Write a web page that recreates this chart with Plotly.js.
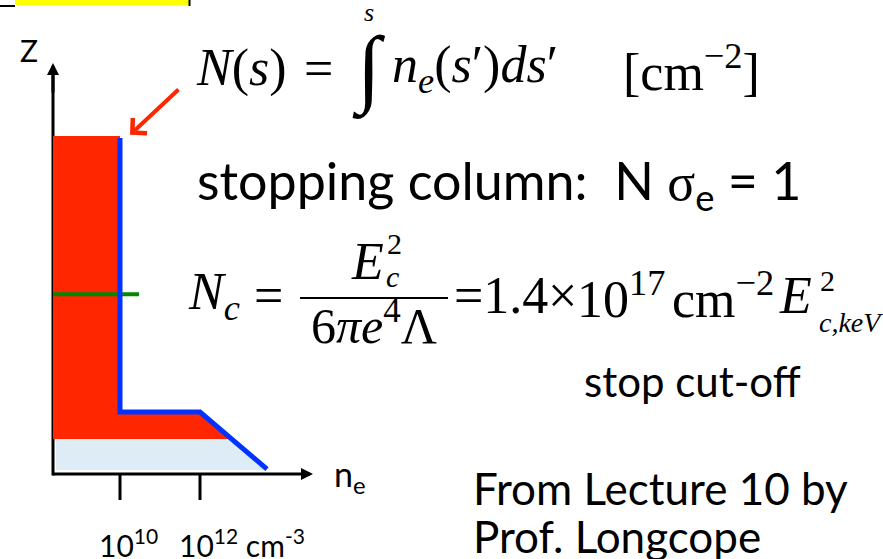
<!DOCTYPE html>
<html>
<head>
<meta charset="utf-8">
<script src="https://cdn.plot.ly/plotly-3.0.1.min.js"></script>
<style>
  html, body { margin: 0; padding: 0; background: #ffffff; }
  #chart { width: 883px; height: 559px; }
</style>
</head>
<body>
<div id="chart"></div>
<script>
// Schematic density profile n_e(z): coronal plateau, transition step, chromospheric ramp
const logDensityTicks = [10, 12];
const tickLabels = ['10<sup>10</sup>', '10<sup>12</sup> cm<sup>-3</sup>'];

// blue profile line (x = log10 n_e, y = height z)
const profileLogN = [10, 10, 12, 13.675];
const profileZ = [10.84, 2.0, 2.0, 0.16];

// red column: integrated density above the stopping depth
const columnLogN = [8.325, 10, 10, 12, 12.79, 8.325];
const columnZ = [10.9, 10.9, 2.0, 2.0, 1.13, 1.13];

// pale region below the stopping depth
const deepLogN = [8.4, 12.79, 13.65, 8.4];
const deepZ = [1.13, 1.13, 0.13, 0.13];

// green marker: stopping height
const stopLogN = [8.325, 10.475];
const stopZ = [5.8, 5.8];

const W = 883, H = 559;
// axis scales: 40 px per decade of n_e, 31 px per unit of z, z = 0 at 474 px
const PX_PER_DEC = 40, PX_PER_Z = 31, X0 = 7, ZBASE = 474;
const xRange = [X0, X0 + W / PX_PER_DEC];
const yRange = [(ZBASE - H) / PX_PER_Z, ZBASE / PX_PER_Z];
const axisLogN = 8.325;   // position of the z axis
const zTop = 13.26;       // tip of the z arrow
const nTip = 14.825;      // tip of the n_e arrow

const px = x => x / W;
const py = y => 1 - y / H;

const SERIF = 'Liberation Serif, Times New Roman, serif';
const SANS = 'Lato, Open Sans, sans-serif';

const traces = [
  { x: deepLogN, y: deepZ, type: 'scatter', mode: 'lines', fill: 'toself',
    fillcolor: '#deedf5', line: { width: 0 }, hoverinfo: 'skip' },
  { x: columnLogN, y: columnZ, type: 'scatter', mode: 'lines', fill: 'toself',
    fillcolor: '#ff2600', line: { width: 0 }, hoverinfo: 'skip' },
  { x: stopLogN, y: stopZ, type: 'scatter', mode: 'lines',
    line: { color: '#008a00', width: 4 }, hoverinfo: 'skip' },
  { x: profileLogN, y: profileZ, type: 'scatter', mode: 'lines',
    line: { color: '#0033ff', width: 5 }, hoverinfo: 'skip' }
];

const shapes = [
  // z axis shaft (under the fills)
  { type: 'line', xref: 'x', yref: 'y', x0: axisLogN, x1: axisLogN, y0: -0.05, y1: zTop - 0.3,
    line: { color: '#000', width: 3 }, layer: 'below' },
  // yellow title box at the top edge
  { type: 'rect', xref: 'paper', yref: 'paper', x0: px(15), x1: px(189), y0: py(5), y1: py(0),
    fillcolor: '#ffff00', line: { width: 0 } },
  { type: 'line', xref: 'paper', yref: 'paper', x0: px(189.5), x1: px(189.5), y0: py(6), y1: py(0),
    line: { color: '#000', width: 2 } },
  { type: 'line', xref: 'paper', yref: 'paper', x0: px(0), x1: px(15), y0: py(6), y1: py(6),
    line: { color: '#000', width: 2 } },
  // fraction bar of N_c
  { type: 'line', xref: 'paper', yref: 'paper', x0: px(300), x1: px(448), y0: py(298), y1: py(298),
    line: { color: '#000', width: 2 } }
];

// tick marks on the n_e axis
logDensityTicks.forEach(t => shapes.push({
  type: 'line', xref: 'x', yref: 'y', x0: t, x1: t, y0: 0, y1: -26 / PX_PER_Z,
  line: { color: '#000', width: 3 }
}));

const annotations = [];
function txt(text, x, y, size, opts) {
  annotations.push(Object.assign({
    text: text, xref: 'paper', yref: 'paper', x: px(x), y: py(y),
    xanchor: 'left', yanchor: 'middle', showarrow: false,
    font: { family: SANS, size: size, color: '#000' }
  }, opts || {}));
}
function eq(text, x, y, size, anchor) {
  txt(text, x, y, size, { xanchor: anchor || 'left', font: { family: SERIF, size: size, color: '#000' } });
}

// axis arrows
annotations.push({ xref: 'x', yref: 'y', axref: 'x', ayref: 'y', x: axisLogN, y: zTop,
  ax: axisLogN, ay: zTop - 1, text: '', showarrow: true, arrowhead: 2, arrowsize: 0.8,
  arrowwidth: 3, arrowcolor: '#000', standoff: 0 });
annotations.push({ xref: 'x', yref: 'y', axref: 'x', ayref: 'y', x: nTip, y: 0,
  ax: axisLogN - 0.04, ay: 0, text: '', showarrow: true, arrowhead: 2, arrowsize: 0.8,
  arrowwidth: 3, arrowcolor: '#000', standoff: 0 });
// red pointer to the profile top
annotations.push({ xref: 'x', yref: 'y', axref: 'x', ayref: 'y', x: 10.25, y: 10.94,
  ax: 11.5, ay: 12.45, text: '', showarrow: true, arrowhead: 4, arrowsize: 1,
  arrowwidth: 4, arrowcolor: '#ff2600', standoff: 0 });

// axis labels
txt('Z', 29, 50, 30, { xanchor: 'center' });
txt('n<sub>e</sub>', 332, 476, 34);
logDensityTicks.forEach((t, i) => annotations.push({
  text: tickLabels[i], xref: 'x', yref: 'paper', x: t - 0.57, y: py(543),
  xanchor: 'left', yanchor: 'middle', showarrow: false,
  font: { family: SANS, size: 30, color: '#000' }
}));

// column density definition
eq('<i>N</i>(<i>s</i>)', 194, 68, 52);
eq('=', 302, 68, 52);
eq('∫', 350, 70, 86);
eq('<i>s</i>', 369, 12, 26, 'center');
eq('<i>n</i><sub><i>e</i></sub>(<i>s</i>′)<i>ds</i>′', 390, 68, 52);
eq('[cm<sup>−2</sup>]', 621, 68, 52);

// stopping condition
txt('stopping column:  N <span style="font-family:Liberation Serif">σ</span><sub>e</sub> = 1', 195, 184, 52);

// stopping column depth
eq('<i>N</i><sub><i>c</i></sub>', 186, 295, 52);
eq('=', 252, 295, 52);
eq('<i>E</i>', 349, 261, 52);
eq('2', 385, 243, 30);
eq('<i>c</i>', 384, 276, 30);
eq('6<i>πe</i><sup>4</sup>Λ', 374, 322, 50, 'center');
eq('=1.4', 452, 295, 52);
eq('×', 546, 295, 52);
eq('10<sup>17</sup>', 575, 295, 52);
eq('cm<sup>−2</sup>', 670, 295, 52);
eq('<i>E</i>', 777, 295, 52);
eq('2', 818, 280, 30);
eq('<i>c,keV</i>', 817, 322, 28);
txt('stop cut-off', 582, 381, 42);

// attribution
txt('From Lecture 10 by', 471, 488, 44);
txt('Prof. Longcope', 471, 536, 44);

const layout = {
  width: W, height: H,
  margin: { l: 0, r: 0, t: 0, b: 0 },
  paper_bgcolor: '#ffffff', plot_bgcolor: '#ffffff',
  showlegend: false,
  xaxis: { range: xRange, visible: false, fixedrange: true },
  yaxis: { range: yRange, visible: false, fixedrange: true },
  shapes: shapes,
  annotations: annotations
};

Plotly.newPlot('chart', traces, layout, { displayModeBar: false, staticPlot: true });
</script>
</body>
</html>
